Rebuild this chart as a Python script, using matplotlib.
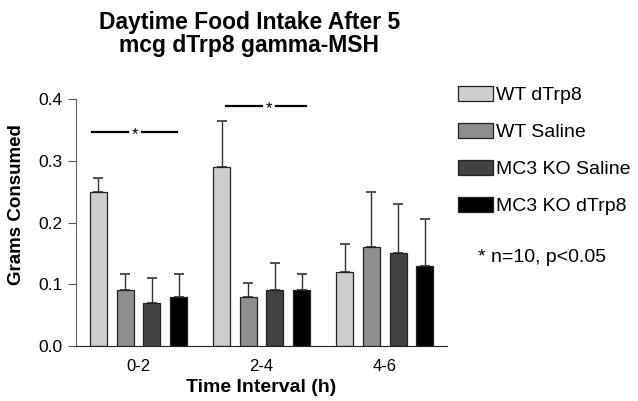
import matplotlib
matplotlib.use("Agg")
import matplotlib.pyplot as plt
import numpy as np

plt.rcParams['font.family'] = ['Liberation Sans', 'DejaVu Sans']

intervals = ["0-2", "2-4", "4-6"]
groups = ["WT dTrp8", "WT Saline", "MC3 KO Saline", "MC3 KO dTrp8"]
colors = ["#cdcdcd", "#8e8e8e", "#424242", "#000000"]

means = {
    "WT dTrp8": [0.25, 0.29, 0.12],
    "WT Saline": [0.09, 0.08, 0.16],
    "MC3 KO Saline": [0.07, 0.09, 0.15],
    "MC3 KO dTrp8": [0.08, 0.09, 0.13],
}
errors = {
    "WT dTrp8": [0.022, 0.075, 0.045],
    "WT Saline": [0.026, 0.022, 0.09],
    "MC3 KO Saline": [0.04, 0.045, 0.08],
    "MC3 KO dTrp8": [0.036, 0.026, 0.076],
}

# significance bars: (left, star, right, height) in data units
sig_bars = [(-0.378, -0.028, 0.313, 0.347), (0.711, 1.061, 1.362, 0.389)]

fig = plt.figure(figsize=(6.38, 4.01), dpi=100)
ax = fig.add_axes([0.119, 0.137, 0.582, 0.616])

x = np.arange(len(intervals))
width = 0.138
step = 0.217
for i, g in enumerate(groups):
    pos = x + (i - 1.5) * step
    ax.bar(pos, means[g], width, color=colors[i], edgecolor="#222222",
           linewidth=0.9, label=g, zorder=2)
    ax.errorbar(pos, means[g], yerr=[np.zeros(3), errors[g]], fmt="none",
                ecolor="#333333", elinewidth=1.0, capsize=3.6, capthick=1.2,
                zorder=1)

for left, star, right, h in sig_bars:
    ax.plot([left, star - 0.055], [h, h], color="black", lw=1.6)
    ax.plot([star + 0.055, right], [h, h], color="black", lw=1.6)
    ax.text(star, h - 0.004, "*", ha="center", va="center", fontsize=12)

ax.set_xlim(-0.508, 2.508)
ax.set_ylim(0, 0.4)
ax.set_yticks([0.0, 0.1, 0.2, 0.3, 0.4])
ax.set_yticklabels(["0.0", "0.1", "0.2", "0.3", "0.4"])
ax.set_xticks(x)
ax.set_xticklabels(intervals)
ax.tick_params(axis="x", length=0, labelsize=12, pad=9)
ax.tick_params(axis="y", length=6, labelsize=12.5, color="#555555")
ax.spines["top"].set_visible(False)
ax.spines["right"].set_visible(False)
ax.spines["left"].set_color("#666666")
ax.spines["bottom"].set_color("#222222")
ax.set_ylabel("Grams Consumed", fontsize=13.5, fontweight="bold")
ax.yaxis.set_label_coords(-0.137, 0.573)
ax.set_xlabel("Time Interval (h)", fontsize=14, fontweight="bold", labelpad=4)

fig.text(0.391, 0.916, "Daytime Food Intake After 5\nmcg dTrp8 gamma-MSH",
         ha="center", va="center", fontsize=16.5, fontweight="bold",
         linespacing=1.0)

fig.legend(loc="upper left", bbox_to_anchor=(0.705, 0.805), frameon=False,
           fontsize=14, handlelength=1.8, handleheight=0.85,
           handletextpad=0.2, labelspacing=0.95, borderaxespad=0)

fig.text(0.749, 0.357, "* n=10, p<0.05", ha="left", va="center", fontsize=14)

fig.savefig("out.png", dpi=100)
